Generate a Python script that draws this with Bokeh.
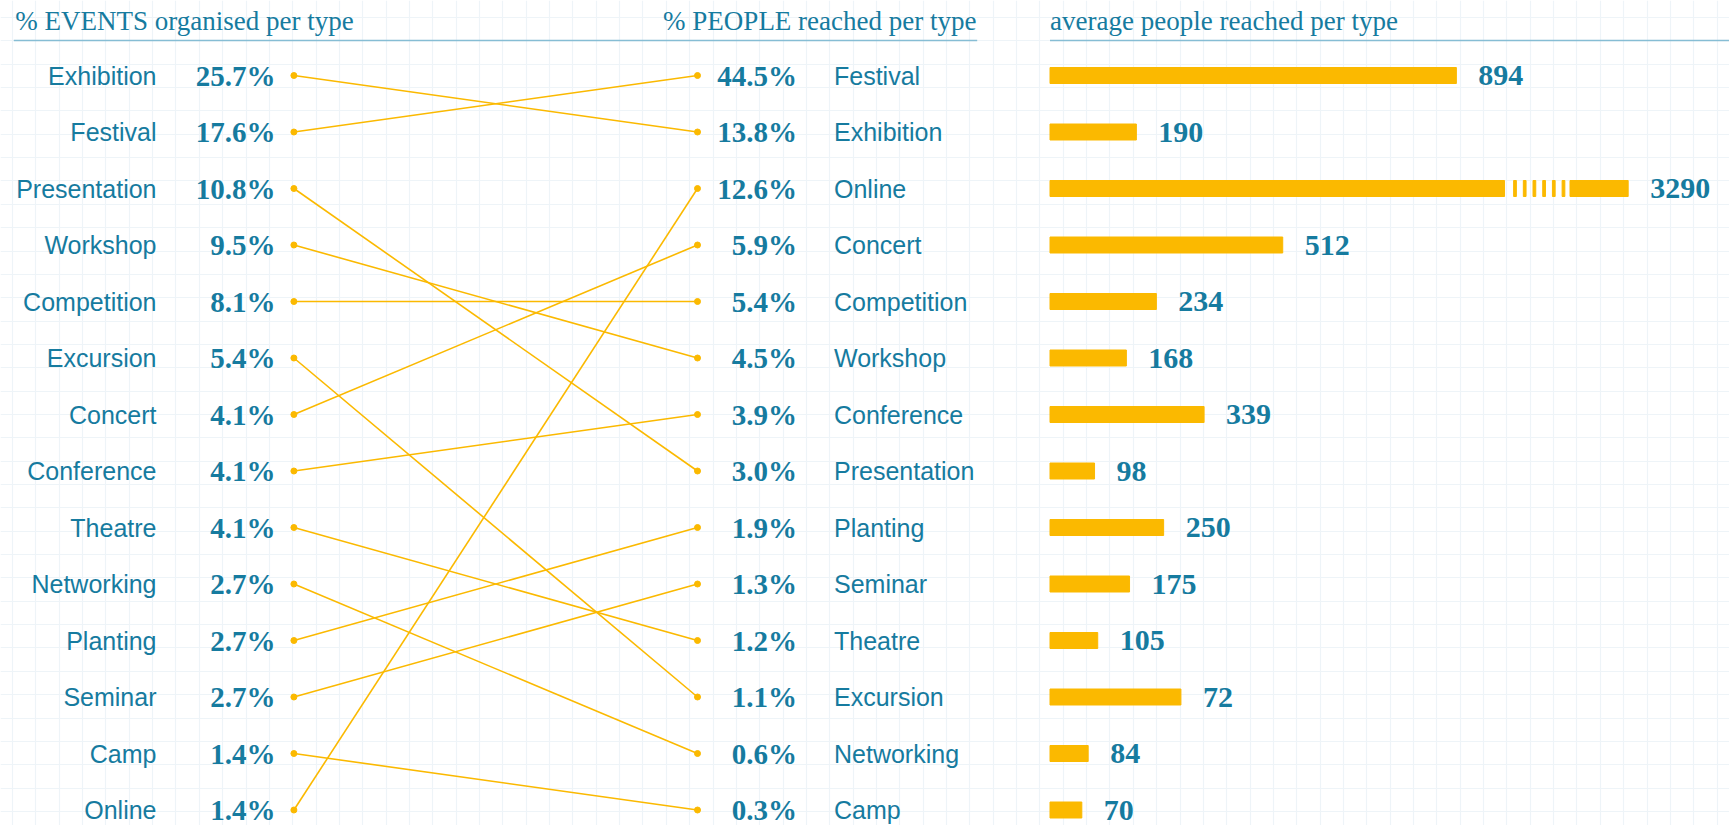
from bokeh.plotting import figure
from bokeh.models import Range1d, FixedTicker
from bokeh.core.properties import value
from bokeh.embed import file_html
from bokeh.resources import INLINE

# ---------------- data ----------------
event_types = ["Exhibition", "Festival", "Presentation", "Workshop", "Competition",
               "Excursion", "Concert", "Conference", "Theatre", "Networking",
               "Planting", "Seminar", "Camp", "Online"]
event_pct = [25.7, 17.6, 10.8, 9.5, 8.1, 5.4, 4.1, 4.1, 4.1, 2.7, 2.7, 2.7, 1.4, 1.4]

people_types = ["Festival", "Exhibition", "Online", "Concert", "Competition", "Workshop",
                "Conference", "Presentation", "Planting", "Seminar", "Theatre",
                "Excursion", "Networking", "Camp"]
people_pct = [44.5, 13.8, 12.6, 5.9, 5.4, 4.5, 3.9, 3.0, 1.9, 1.3, 1.2, 1.1, 0.6, 0.3]

avg_people = [894, 190, 3290, 512, 234, 168, 339, 98, 250, 175, 105, 72, 84, 70]
# bar lengths as drawn in the picture (Online drawn truncated with a break)
bar_drawn = [894, 190, 1272, 512, 234, 168, 339, 98, 250, 175, 105, 288, 84, 70]
online_break = (1000, 1144)

titles = ["% EVENTS organised per type", "% PEOPLE reached per type",
          "average people reached per type"]

# ---------------- style / layout ----------------
W, H = 1729, 825
TEXT = "#167b9f"
GOLD = "#fbb900"
GRID = "#eef4f8"
RULE = "#86bdd4"
ROW0, ROW_STEP = 75.0, 56.5
BAR_X0, U = 1049.5, 2.2
SANS = "Liberation Sans"
SERIF = "Liberation Serif"

p = figure(width=W, height=H, x_range=Range1d(0, W), y_range=Range1d(H, 0),
           output_backend="svg", toolbar_location=None, min_border=0,
           outline_line_color=None, background_fill_color="white",
           border_fill_color="white")
p.axis.visible = False
p.extra_y_ranges = {"rows": Range1d(start=(H - ROW0) / ROW_STEP, end=-ROW0 / ROW_STEP)}
p.extra_x_ranges = {"bars": Range1d(start=-BAR_X0 * U, end=(W - BAR_X0) * U)}

p.xgrid.ticker = FixedTicker(ticks=[12 + k * 23.35 for k in range(75)])
p.ygrid.ticker = FixedTicker(ticks=[17 + k * 23.35 for k in range(36)])
p.grid.grid_line_color = GRID
p.grid.grid_line_width = 1.2

rows = list(range(len(event_types)))

# titles and rules
TY = 20.5
p.text(x=[14.7], y=[TY], text=[titles[0]], text_align="left", text_baseline="middle",
       text_font=value(SERIF), text_font_size="27px", text_color=TEXT)
p.text(x=[976], y=[TY], text=[titles[1]], text_align="right", text_baseline="middle",
       text_font=value(SERIF), text_font_size="27px", text_color=TEXT)
p.text(x=[1049.6], y=[TY], text=[titles[2]], text_align="left", text_baseline="middle",
       text_font=value(SERIF), text_font_size="27px", text_color=TEXT)
p.segment(x0=[13.3, 1049.5], y0=[40, 40], x1=[976.7, W], y1=[40, 40],
          line_color=RULE, line_width=1.5)

# slope lines
XL, XR = 293.4, 697
right_idx = [people_types.index(t) for t in event_types]
p.segment(x0=XL, y0=rows, x1=XR, y1=right_idx, line_color=GOLD, line_width=1.6,
          y_range_name="rows")
p.scatter(x=XL, y=rows, size=6, color=GOLD, y_range_name="rows")
p.scatter(x=XR, y=rows, size=6, color=GOLD, y_range_name="rows")

# left column
p.text(x=156, y=rows, text=event_types, text_align="right", text_baseline="middle",
       text_font=value(SANS), text_font_size="25px", text_color=TEXT,
       y_range_name="rows")
p.text(x=275, y=rows, text=[f"{v:.1f}%" for v in event_pct], text_align="right",
       text_baseline="middle", text_font=value(SERIF), text_font_style="bold",
       text_font_size="29px", text_color=TEXT, y_range_name="rows")

# right column
p.text(x=796.5, y=rows, text=[f"{v:.1f}%" for v in people_pct], text_align="right",
       text_baseline="middle", text_font=value(SERIF), text_font_style="bold",
       text_font_size="29px", text_color=TEXT, y_range_name="rows")
p.text(x=833.5, y=rows, text=people_types, text_align="left", text_baseline="middle",
       text_font=value(SANS), text_font_size="25px", text_color=TEXT,
       y_range_name="rows")

# bars
bh = 16 / ROW_STEP
solid_right = [online_break[0] if t == "Online" else b for t, b in zip(people_types, bar_drawn)]
p.hbar(y=rows, left=0, right=solid_right, height=bh, color=GOLD,
       x_range_name="bars", y_range_name="rows")
k = people_types.index("Online")
p.hbar(y=[k], left=[online_break[1]], right=[bar_drawn[k]], height=bh, color=GOLD,
       x_range_name="bars", y_range_name="rows")
n_str = 6
step = (online_break[1] - online_break[0] - 16) / n_str
stripe_c = [online_break[0] + 23 + i * step for i in range(n_str)]
p.hbar(y=[k] * n_str, left=[c - 3 for c in stripe_c], right=[c + 3 for c in stripe_c],
       height=bh, color=GOLD, x_range_name="bars", y_range_name="rows")
p.text(x=bar_drawn, y=rows, text=[str(v) for v in avg_people], x_offset=22,
       text_align="left", text_baseline="middle", text_font=value(SERIF),
       text_font_style="bold", text_font_size="30px", text_color=TEXT,
       x_range_name="bars", y_range_name="rows")

open("out.html", "w").write(file_html(p, INLINE))
